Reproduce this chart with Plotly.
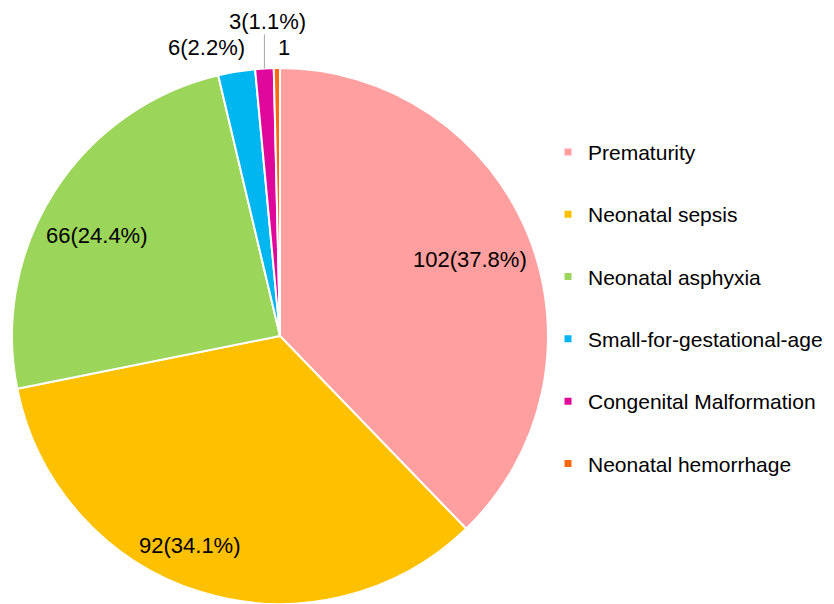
import math
import plotly.graph_objects as go

categories = ["Prematurity", "Neonatal sepsis", "Neonatal asphyxia",
              "Small-for-gestational-age", "Congenital Malformation", "Neonatal hemorrhage"]
counts = [102, 92, 66, 6, 3, 1]
label_text = ["102(37.8%)", "92(34.1%)", "66(24.4%)", "6(2.2%)", "3(1.1%)", "1"]
colors = ["#FF9F9F", "#FFC000", "#9BD55A", "#00B6F0", "#E0089B", "#FF6A10"]

# label placement style: (radius factor, angle offset in degrees)
label_style = [(0.765, 0), (0.85, 6), (0.78, -4), (1.11, -5), (1.175, 1), (1.075, 1.5)]
leader_line = [False, False, False, False, True, False]

W, H = 834, 604
CX, CY, R = 272, 328, 268   # page body adds an 8px offset
FONT = "Liberation Sans, Arial"

fig = go.Figure()
fig.add_trace(go.Pie(
    labels=categories, values=counts, textinfo="none",
    sort=False, direction="clockwise", rotation=0,
    marker=dict(colors=colors, line=dict(color="white", width=2)),
    domain=dict(x=[(CX - R) / W, (CX + R) / W], y=[(H - CY - R) / H, (H - CY + R) / H]),
    showlegend=False, hoverinfo="label+value+percent",
))
for c, col in zip(categories, colors):
    fig.add_trace(go.Scatter(
        x=[None], y=[None], mode="markers", name=c, legendgroup=c,
        marker=dict(symbol="square", size=7, color=col),
    ))

total = sum(counts)
cum = 0
annotations, shapes = [], []
for v, txt, (rf, off), lead in zip(counts, label_text, label_style, leader_line):
    mid = (cum + v / 2) / total * 360.0
    cum += v
    a = math.radians(mid + off)
    px = CX + rf * R * math.sin(a)
    py = CY - rf * R * math.cos(a)
    annotations.append(dict(
        x=px / W, y=1 - py / H, xref="paper", yref="paper", text=txt,
        showarrow=False, xanchor="center", yanchor="middle", borderpad=0,
        font=dict(family=FONT, size=22, color="black"),
    ))
    if lead:
        am = math.radians(mid)
        ex = CX + R * math.sin(am)
        ey = CY - R * math.cos(am)
        shapes.append(dict(type="line", xref="paper", yref="paper",
                           x0=ex / W, y0=1 - ey / H, x1=ex / W, y1=1 - (py + 13) / H,
                           line=dict(color="#A6A6A6", width=1)))

fig.update_layout(
    width=W, height=H, margin=dict(l=0, r=0, t=0, b=0),
    paper_bgcolor="white", plot_bgcolor="white",
    xaxis=dict(visible=False), yaxis=dict(visible=False),
    showlegend=True, annotations=annotations, shapes=shapes,
    legend=dict(x=0.6475, y=0.795, xanchor="left", yanchor="top",
                font=dict(family=FONT, size=21, color="black"),
                tracegroupgap=32, itemwidth=30, bgcolor="rgba(0,0,0,0)"),
)
fig.write_html("out.html")
